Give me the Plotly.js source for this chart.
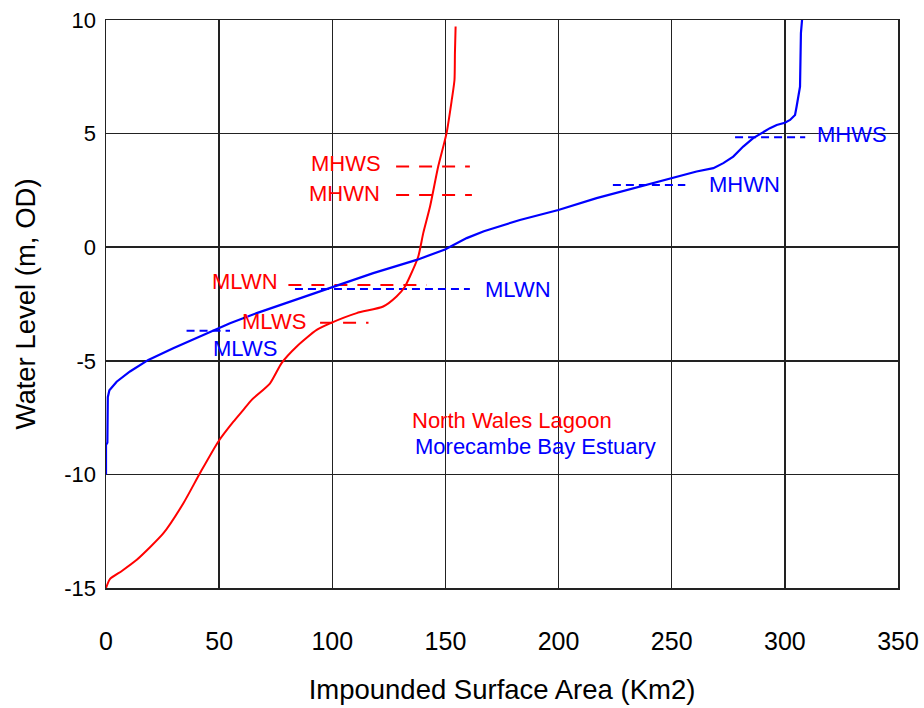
<!DOCTYPE html>
<html>
<head>
<meta charset="utf-8">
<script src="https://cdn.plot.ly/plotly-3.0.1.min.js"></script>
<style>html,body{margin:0;padding:0;background:#fff;}#chart{width:924px;height:708px;}</style>
</head>
<body>
<div id="chart"></div>
<script>
// North Wales Lagoon: impounded area (km2) vs water level (m OD)
const nwArea  = [0, 1.8, 7, 13.6, 25.3, 34.2, 41.5, 49.6, 56.3, 60.7, 64.4, 72.5, 77.6, 84.3, 93.1, 99, 110.8, 122.5, 128.4, 132, 134.3, 138, 140.2, 143.2, 146.8, 150.5, 152.8, 154, 154.2, 154.5];
const nwLevel = [-15, -14.6, -14.25, -13.76, -12.6, -11.27, -9.95, -8.56, -7.68, -7.16, -6.72, -5.99, -5.1, -4.37, -3.64, -3.35, -2.9, -2.61, -2.17, -1.75, -1.29, -0.41, 0.62, 1.79, 3.55, 5.02, 6.48, 7.36, 8.54, 9.71];

// Morecambe Bay Estuary
const mbArea  = [0, 0, 0.6, 0.8, 1.5, 4.7, 10.6, 18.7, 29.7, 41.5, 54.8, 66.6, 81.3, 99, 118.1, 137.3, 149.8, 159.4, 167, 182.9, 199.9, 216.8, 236, 250, 261, 268.4, 272.8, 277.2, 281.6, 286, 290.5, 293.4, 296.4, 300, 302.3, 304.5, 305.2, 306.7, 307.1, 307.6];
const mbLevel = [-10, -8.7, -8.6, -6.6, -6.3, -5.92, -5.47, -4.96, -4.45, -3.93, -3.35, -2.9, -2.39, -1.8, -1.14, -0.56, -0.1, 0.4, 0.7, 1.2, 1.64, 2.16, 2.67, 3.04, 3.33, 3.48, 3.7, 3.99, 4.43, 4.8, 5.09, 5.24, 5.38, 5.48, 5.6, 5.82, 6.19, 7.07, 9.42, 10];

// Tide levels
const tideLabels  = ['MHWS', 'MHWN', 'MLWN', 'MLWS'];
const nwTideLevel = [3.55, 2.3, -1.66, -3.32];
const nwTideFrom  = [128.2, 128.2, 80.6, 94.6];
const nwTideTo    = [160.8, 161.7, 141.7, 116];
const mbTideLevel = [4.84, 2.74, -1.84, -3.68];
const mbTideFrom  = [278, 224, 83.5, 35.6];
const mbTideTo    = [309, 256, 160.8, 54.8];

const xTicks = [0, 50, 100, 150, 200, 250, 300, 350];
const yTicks = [-15, -10, -5, 0, 5, 10];
const seriesNames = ['North Wales Lagoon', 'Morecambe Bay Estuary'];

const RED = '#ff0000', BLUE = '#0000ff';
const FONT = 'Arial, "Liberation Sans", sans-serif';

const traces = [];
tideLabels.forEach((lab, i) => {
  traces.push({x: [nwTideFrom[i], nwTideTo[i]], y: [nwTideLevel[i], nwTideLevel[i]], mode: 'lines',
    line: {color: RED, width: 2, dash: '13px,10px'}, hoverinfo: 'skip'});
  traces.push({x: [mbTideFrom[i], mbTideTo[i]], y: [mbTideLevel[i], mbTideLevel[i]], mode: 'lines',
    line: {color: BLUE, width: 2, dash: '8px,5px'}, hoverinfo: 'skip'});
});
traces.push({x: nwArea, y: nwLevel, mode: 'lines', name: seriesNames[0], line: {color: RED, width: 2, shape: 'spline', smoothing: 0.6}});
traces.push({x: mbArea, y: mbLevel, mode: 'lines', name: seriesNames[1], line: {color: BLUE, width: 2.2}});

// label placement (layout only)
const nwLabelPos = [[122.4, 3.7], [121.8, 2.35], [77, -1.5], [89.3, -3.27]];
const mbLabelPos = [[313.3, 4.94], [265.4, 2.74], [166.6, -1.88], [46.3, -4.48]];
const annotations = [];
tideLabels.forEach((lab, i) => {
  annotations.push({x: nwLabelPos[i][0], y: nwLabelPos[i][1], text: lab, showarrow: false,
    xanchor: 'right', yanchor: 'middle', font: {color: RED, size: 22, family: FONT}});
  annotations.push({x: mbLabelPos[i][0], y: mbLabelPos[i][1], text: lab, showarrow: false,
    xanchor: 'left', yanchor: 'middle', font: {color: BLUE, size: 22, family: FONT}});
});
annotations.push({x: 134.3, y: -7.63, text: seriesNames[0], showarrow: false, xanchor: 'left', yanchor: 'middle',
  font: {color: RED, size: 22, family: FONT}});
annotations.push({x: 135.8, y: -8.75, text: seriesNames[1], showarrow: false, xanchor: 'left', yanchor: 'middle',
  font: {color: BLUE, size: 22, family: FONT}});

const layout = {
  width: 924, height: 708,
  margin: {l: 106, r: 26, t: 20, b: 120},
  paper_bgcolor: '#fff', plot_bgcolor: '#fff',
  showlegend: false, hovermode: false,
  font: {family: FONT, color: '#000'},
  xaxis: {
    range: [0, 350], tickvals: xTicks, ticktext: xTicks.map(String),
    showgrid: true, gridcolor: '#222', gridwidth: 1.5,
    showline: true, linecolor: '#222', linewidth: 1.5, mirror: true,
    zeroline: false, ticks: '', ticklabelstandoff: 30,
    tickfont: {size: 25, family: FONT, color: '#000'},
    title: {text: 'Impounded Surface Area (Km2)', font: {size: 27.5, family: FONT, color: '#000'}, standoff: 26}
  },
  yaxis: {
    range: [-15, 10], tickvals: yTicks, ticktext: yTicks.map(String),
    showgrid: true, gridcolor: '#222', gridwidth: 1.5,
    showline: true, linecolor: '#222', linewidth: 1.5, mirror: true,
    zeroline: false, ticks: '', ticklabelstandoff: 4,
    tickfont: {size: 22, family: FONT, color: '#000'},
    title: {text: 'Water Level (m, OD)', font: {size: 27.5, family: FONT, color: '#000'}, standoff: 20}
  },
  annotations: annotations
};

Plotly.newPlot('chart', traces, layout, {displayModeBar: false, staticPlot: true});
</script>
</body>
</html>
